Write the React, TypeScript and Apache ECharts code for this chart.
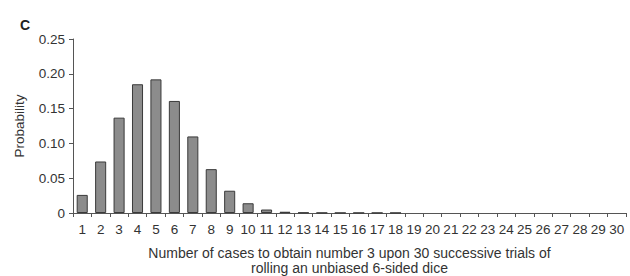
import React, { useEffect, useRef } from "react";
import * as echarts from "echarts";

const categories: string[] = Array.from({ length: 30 }, (_, i) => String(i + 1));
const probabilities: number[] = [
  0.026, 0.074, 0.137, 0.185, 0.192, 0.161, 0.11, 0.063, 0.032, 0.014,
  0.005, 0.0018, 0.0006, 0.0003, 0.0002, 0.0002, 0.0002, 0.0002, 0, 0,
  0, 0, 0, 0, 0, 0, 0, 0, 0, 0,
];
const yTicks = { min: 0, max: 0.25, interval: 0.05 };

export default function App() {
  const ref = useRef<HTMLDivElement>(null);
  useEffect(() => {
    document.body.style.margin = "0";
    const chart = echarts.init(ref.current!, null, { renderer: "svg" });
    const font = "Liberation Sans, Arial, sans-serif";
    chart.setOption({
      animation: false,
      backgroundColor: "#fff",
      title: {
        text: "C",
        left: 15,
        top: 13,
        textStyle: { fontFamily: font, fontSize: 14, fontWeight: "bold", color: "#222" },
      },
      grid: { left: 73, right: 4, top: 39, bottom: 63, containLabel: false, outerBoundsMode: "none" },
      xAxis: {
        type: "category",
        data: categories,
        boundaryGap: true,
        axisLine: { lineStyle: { color: "#555", width: 1 } },
        axisTick: { show: true, alignWithLabel: false, length: 4, lineStyle: { color: "#555" } },
        axisLabel: { color: "#333", fontFamily: font, fontSize: 13.5, margin: 9, interval: 0 },
        name: "Number of cases to obtain number 3 upon 30 successive trials of\nrolling an unbiased 6-sided dice",
        nameLocation: "middle",
        nameGap: 32,
        nameTextStyle: { color: "#333", fontFamily: font, fontSize: 14, lineHeight: 15, align: "center" },
      },
      yAxis: {
        type: "value",
        min: yTicks.min,
        max: yTicks.max,
        interval: yTicks.interval,
        splitLine: { show: false },
        axisLine: { show: true, lineStyle: { color: "#555", width: 1 } },
        axisTick: { show: true, length: 4, lineStyle: { color: "#555" } },
        axisLabel: {
          color: "#333",
          fontFamily: font,
          fontSize: 13.5,
          margin: 8,
          formatter: (v: number) => (v === 0 ? "0" : v.toFixed(2)),
        },
        name: "Probability",
        nameLocation: "middle",
        nameGap: 47,
        nameTextStyle: { color: "#333", fontFamily: font, fontSize: 13.5 },
      },
      series: [
        {
          type: "bar",
          data: probabilities.map((v) => (v === 0 ? "-" : v)),
          barCategoryGap: "40%",
          itemStyle: { color: "#8c8c8c", borderColor: "#3a3a3a", borderWidth: 1 },
        },
      ],
    });
    return () => chart.dispose();
  }, []);
  return <div ref={ref} style={{ width: 630, height: 276 }} />;
}
